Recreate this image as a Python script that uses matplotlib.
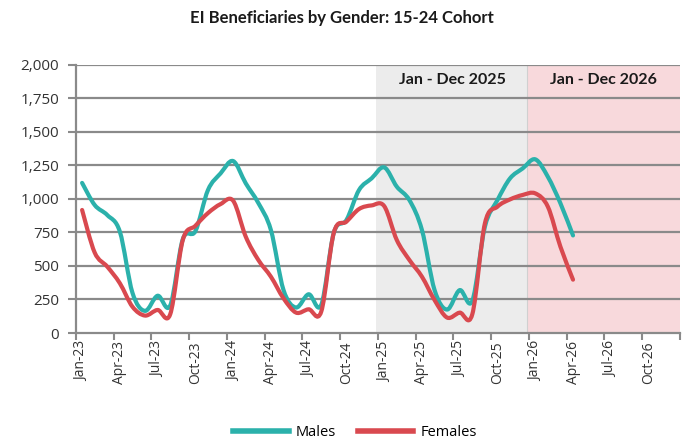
import matplotlib
matplotlib.use("Agg")
import matplotlib.pyplot as plt
from matplotlib.path import Path
from matplotlib.patches import PathPatch
from matplotlib.lines import Line2D
import numpy as np

# ---- data ----
month_labels = ["Jan", "Feb", "Mar", "Apr", "May", "Jun", "Jul", "Aug", "Sep", "Oct", "Nov", "Dec"]
years = ["23", "24", "25", "26"]
categories = [f"{m}-{y}" for y in years for m in month_labels]

males = [1120, 955, 880, 756, 300, 165, 278, 205, 700, 760, 1067, 1191,
         1283, 1117, 970, 768, 321, 190, 289, 210, 749, 843, 1067, 1154,
         1236, 1092, 992, 768, 321, 175, 320, 240, 793, 992, 1154, 1228,
         1296, 1166, 968, 728]
females = [918, 600, 495, 371, 196, 130, 172, 140, 694, 800, 895, 962,
           987, 719, 545, 420, 259, 152, 177, 160, 749, 831, 925, 952,
           947, 694, 545, 420, 246, 115, 152, 140, 818, 943, 997, 1030,
           1042, 943, 644, 398]

yticks = [0, 250, 500, 750, 1000, 1250, 1500, 1750, 2000]
shade_2025 = ("Jan - Dec 2025", 24, 35)
shade_2026 = ("Jan - Dec 2026", 36, 47)

TEAL = "#2bb1ab"
RED = "#d9494f"
GRID = "#8a8a8a"

fig = plt.figure(figsize=(6.83, 4.42), dpi=100)
ax = fig.add_axes([0.111, 0.2466, 0.8846, 0.6064])

n = len(categories)
ax.set_xlim(-0.5, n - 0.5)
ax.set_ylim(0, 2000)

# shaded periods
ax.axvspan(shade_2025[1] - 0.65, shade_2026[1] - 0.65, color="#ececec", zorder=0, lw=0)
ax.axvspan(shade_2026[1] - 0.65, shade_2026[2] + 0.5, color="#f8d9dc", zorder=0, lw=0)
ax.axvline(shade_2026[1] - 0.65, color="#d0d0d0", lw=0.8, zorder=0.5)
for lab, a, b in (shade_2025, shade_2026):
    ax.text((a + b) / 2 - 0.1, 1888, lab, ha="center", va="center", fontsize=11.5,
            fontweight="bold", family="Lato", color="#1a1a1a", zorder=3)

# grid
ax.set_yticks(yticks)
ax.set_yticklabels([f"{v:,}" for v in yticks])
for v in yticks[1:]:
    ax.axhline(v, color=GRID, lw=1.6, zorder=1)


def smooth_path(xs, ys):
    xs = np.asarray(xs, float)
    ys = np.asarray(ys, float)
    pts = np.column_stack([xs, ys])
    verts = [pts[0]]
    codes = [Path.MOVETO]
    m = len(pts)
    for i in range(m - 1):
        p0 = pts[i - 1] if i > 0 else pts[i]
        p1 = pts[i]
        p2 = pts[i + 1]
        p3 = pts[i + 2] if i + 2 < m else pts[i + 1]
        c1 = p1 + (p2 - p0) / 6.0
        c2 = p2 - (p3 - p1) / 6.0
        verts += [c1, c2, p2]
        codes += [Path.CURVE4] * 3
    return Path(verts, codes)


x_idx = np.arange(len(males))
for series, col in ((males, TEAL), (females, RED)):
    patch = PathPatch(smooth_path(x_idx, series), facecolor="none", edgecolor=col,
                      lw=3.0, capstyle="round", joinstyle="round", zorder=4)
    ax.add_patch(patch)

# x axis ticks
label_pos = list(range(0, n, 3))
ax.set_xticks(label_pos)
ax.set_xticklabels([categories[i] for i in label_pos], rotation=90, fontsize=10,
                   family="Open Sans", color="#333333")
ax.set_xticks([i - 0.5 for i in range(0, n + 1, 3)], minor=True)
ax.tick_params(axis="x", which="major", length=0, pad=6)
ax.tick_params(axis="x", which="minor", length=5, width=1.5, color=GRID, direction="out")
ax.tick_params(axis="y", length=6, width=1.5, color=GRID, labelsize=11, labelcolor="#333333", pad=6)
for t in ax.get_yticklabels():
    t.set_family("Open Sans")

for s in ("top", "right"):
    ax.spines[s].set_visible(False)
for s in ("left", "bottom"):
    ax.spines[s].set_color(GRID)
    ax.spines[s].set_linewidth(1.6)

fig.suptitle("EI Beneficiaries by Gender: 15-24 Cohort", x=0.5, y=0.977,
             fontsize=12, fontweight="bold", family="Lato", color="#1a1a1a", va="top")

handles = [Line2D([], [], color=TEAL, lw=4), Line2D([], [], color=RED, lw=4)]
fig.legend(handles, ["Males", "Females"], loc="lower center", bbox_to_anchor=(0.52, -0.025),
           ncol=2, frameon=False, handlelength=3.8, handletextpad=0.5, columnspacing=1.5,
           prop={"family": "Open Sans", "size": 10.5})

fig.savefig("out.png", dpi=100)
